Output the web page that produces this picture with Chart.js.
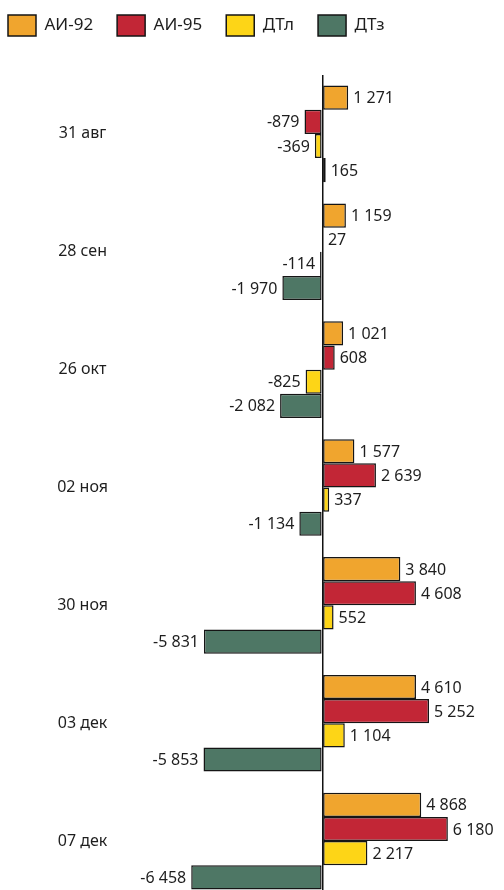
<!DOCTYPE html>
<html><head><meta charset="utf-8">
<script src="https://cdn.jsdelivr.net/npm/chart.js@4/dist/chart.umd.min.js"></script>
<style>html,body{margin:0;padding:0;background:#fff;overflow:hidden;height:890px;}</style>
</head><body>
<canvas id="c" width="504" height="900"></canvas>
<script>
const categories = ['31 авг','28 сен','26 окт','02 ноя','30 ноя','03 дек','07 дек'];
const ai92 = [1271, 1159, 1021, 1577, 3840, 4610, 4868];
const ai95 = [-879, 27, 608, 2639, 4608, 5252, 6180];
const dtl  = [-369, -114, -825, 337, 552, 1104, 2217];
const dtz  = [165, -1970, -2082, -1134, -5831, -5853, -6458];
const seriesNames = ['АИ-92','АИ-95','ДТл','ДТз'];
const colors = ['#F0A52E','#C22636','#FDD517','#4E7765'];
const FONT = '"Noto Sans", "Open Sans", sans-serif';

function fmt(v){
  const s = Math.abs(v).toString().replace(/\B(?=(\d{3})+(?!\d))/g, ' ');
  return (v < 0 ? '-' : '') + s;
}

const labelPlugin = {
  id: 'valueLabels',
  afterDatasetsDraw(chart){
    const ctx = chart.ctx;
    ctx.save();
    ctx.font = '16px ' + FONT;
    ctx.fillStyle = '#1e1e1e';
    ctx.textBaseline = 'middle';
    chart.data.datasets.forEach((ds, i) => {
      const meta = chart.getDatasetMeta(i);
      meta.data.forEach((el, j) => {
        const v = ds.data[j];
        if (v >= 0) { ctx.textAlign = 'left'; ctx.fillText(fmt(v), el.x + 5, el.y + 1); }
        else { ctx.textAlign = 'right'; ctx.fillText(fmt(v), el.x - 5, el.y + 1); }
      });
    });
    ctx.restore();
  }
};

const legendSpace = {
  id: 'legendSpace',
  beforeInit(chart){
    const orig = chart.legend.fit;
    chart.legend.fit = function(){ orig.bind(chart.legend)(); this.height += 20; };
  },
  afterLayout(chart){
    chart.legend.left -= 16;
    chart.legend.top -= 9;
  }
};

new Chart(document.getElementById('c'), {
  type: 'bar',
  data: {
    labels: categories,
    datasets: [ai92, ai95, dtl, dtz].map((d, i) => ({
      label: seriesNames[i], data: d, backgroundColor: colors[i],
      borderColor: '#151515', borderWidth: 1.5, borderSkipped: false,
      categoryPercentage: 0.82, barPercentage: 1.0
    }))
  },
  options: {
    indexAxis: 'y',
    responsive: false,
    animation: false,
    layout: { padding: { top: 0, right: 7, bottom: 0, left: 0 } },
    plugins: {
      legend: {
        position: 'top', align: 'start',
        labels: { font: { size: 17, family: FONT }, color: '#1e1e1e', boxWidth: 28, boxHeight: 21, padding: 24 }
      },
      tooltip: { enabled: false }
    },
    scales: {
      x: {
        min: -7700, max: 8600,
        ticks: { display: false },
        border: { display: false },
        grid: {
          drawTicks: false,
          color: (c) => (c.tick && c.tick.value === 0) ? '#111' : 'rgba(0,0,0,0)',
          lineWidth: 1.5
        },
        afterFit(s){ s.height = 0; s.paddingLeft = 0; s.paddingRight = 0; }
      },
      y: {
        ticks: { font: { size: 16, family: FONT }, color: '#1e1e1e', crossAlign: 'center', padding: 50 },
        grid: { display: false },
        border: { display: false },
        afterFit(s){ s.width = 166; s.paddingTop = 0; s.paddingBottom = 0; }
      }
    }
  },
  plugins: [labelPlugin, legendSpace]
});
</script>
</body></html>
